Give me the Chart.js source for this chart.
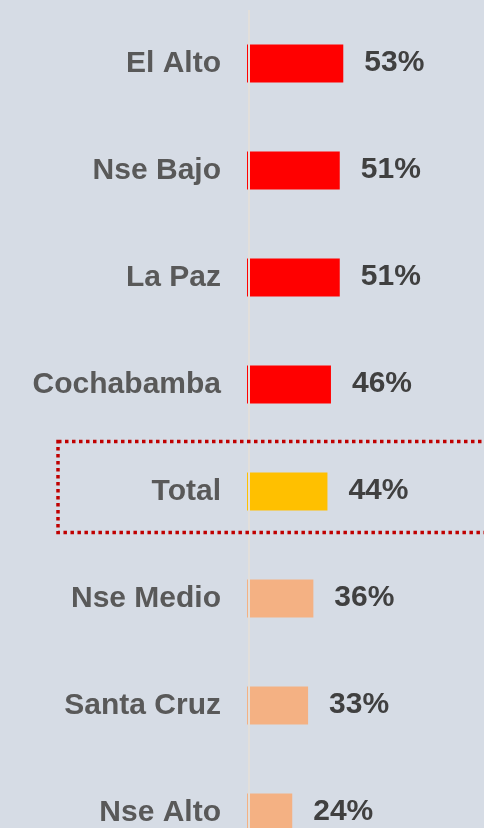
<!DOCTYPE html>
<html>
<head>
<meta charset="utf-8">
<script src="https://cdn.jsdelivr.net/npm/chart.js@4/dist/chart.umd.min.js"></script>
<style>
  html, body { margin: 0; padding: 0; background: #d6dce5; overflow: hidden; }
  #chart { display: block; }
</style>
</head>
<body>
<canvas id="chart" width="484" height="866"></canvas>
<script>
// Data
const categories = ['El Alto', 'Nse Bajo', 'La Paz', 'Cochabamba', 'Total', 'Nse Medio', 'Santa Cruz', 'Nse Alto'];
const values = [53, 51, 51, 46, 44, 36, 33, 24];
const highlightCategory = 'Total';

// Styles
const barColors = ['#ff0000', '#ff0000', '#ff0000', '#ff0000', '#ffc000', '#f4b183', '#f4b183', '#f4b183'];
const FONT = "'Liberation Sans', Arial, sans-serif";

// bar value labels, zero line and the dotted box around Total
const overlayPlugin = {
  id: 'overlay',
  afterDatasetsDraw(chart) {
    const ctx = chart.ctx;
    const area = chart.chartArea;
    const meta = chart.getDatasetMeta(0);
    const x0 = chart.scales.x.getPixelForValue(0);
    ctx.save();

    // thin sliver left of each bar
    meta.data.forEach((bar, i) => {
      const h = bar.height;
      ctx.fillStyle = barColors[i];
      ctx.fillRect(x0 - 3, bar.y - h / 2, 1, h);
    });

    // zero axis line
    ctx.fillStyle = '#e2dfdb';
    ctx.fillRect(x0 - 2, area.top, 2, chart.height - area.top);

    // value labels
    ctx.fillStyle = '#404040';
    ctx.font = 'bold 30px ' + FONT;
    ctx.textAlign = 'left';
    ctx.textBaseline = 'middle';
    meta.data.forEach((bar, i) => {
      ctx.fillText(values[i] + '%', bar.x + 21, bar.y - 1);
    });

    // dotted highlight box
    const yScale = chart.scales.y;
    const idx = categories.indexOf(highlightCategory);
    const cy = yScale.getPixelForValue(idx);
    const row = area.height / categories.length;
    ctx.strokeStyle = '#c00000';
    ctx.lineWidth = 3.5;
    ctx.setLineDash([3.5, 3.5]);
    ctx.strokeRect(58, cy - row * 0.467, chart.width, row * 0.85);
    ctx.restore();
  }
};

new Chart(document.getElementById('chart'), {
  type: 'bar',
  data: {
    labels: categories,
    datasets: [{
      data: values,
      backgroundColor: barColors,
      borderWidth: 0,
      barPercentage: 0.355,
      categoryPercentage: 1
    }]
  },
  options: {
    indexAxis: 'y',
    responsive: false,
    animation: false,
    layout: { padding: { top: 10, right: 58, left: 0, bottom: 0 } },
    plugins: {
      legend: { display: false },
      tooltip: { enabled: false }
    },
    scales: {
      x: {
        min: 0,
        max: 100,
        display: false
      },
      y: {
        grid: { display: false, drawTicks: false },
        border: { display: false },
        ticks: {
          color: '#595959',
          padding: 29,
          font: { family: FONT, size: 30, weight: 'bold' }
        },
        afterFit(axis) {
          axis.width = 250;
          axis.paddingTop = 0;
          axis.paddingBottom = 0;
        }
      }
    }
  },
  plugins: [overlayPlugin]
});
</script>
</body>
</html>
